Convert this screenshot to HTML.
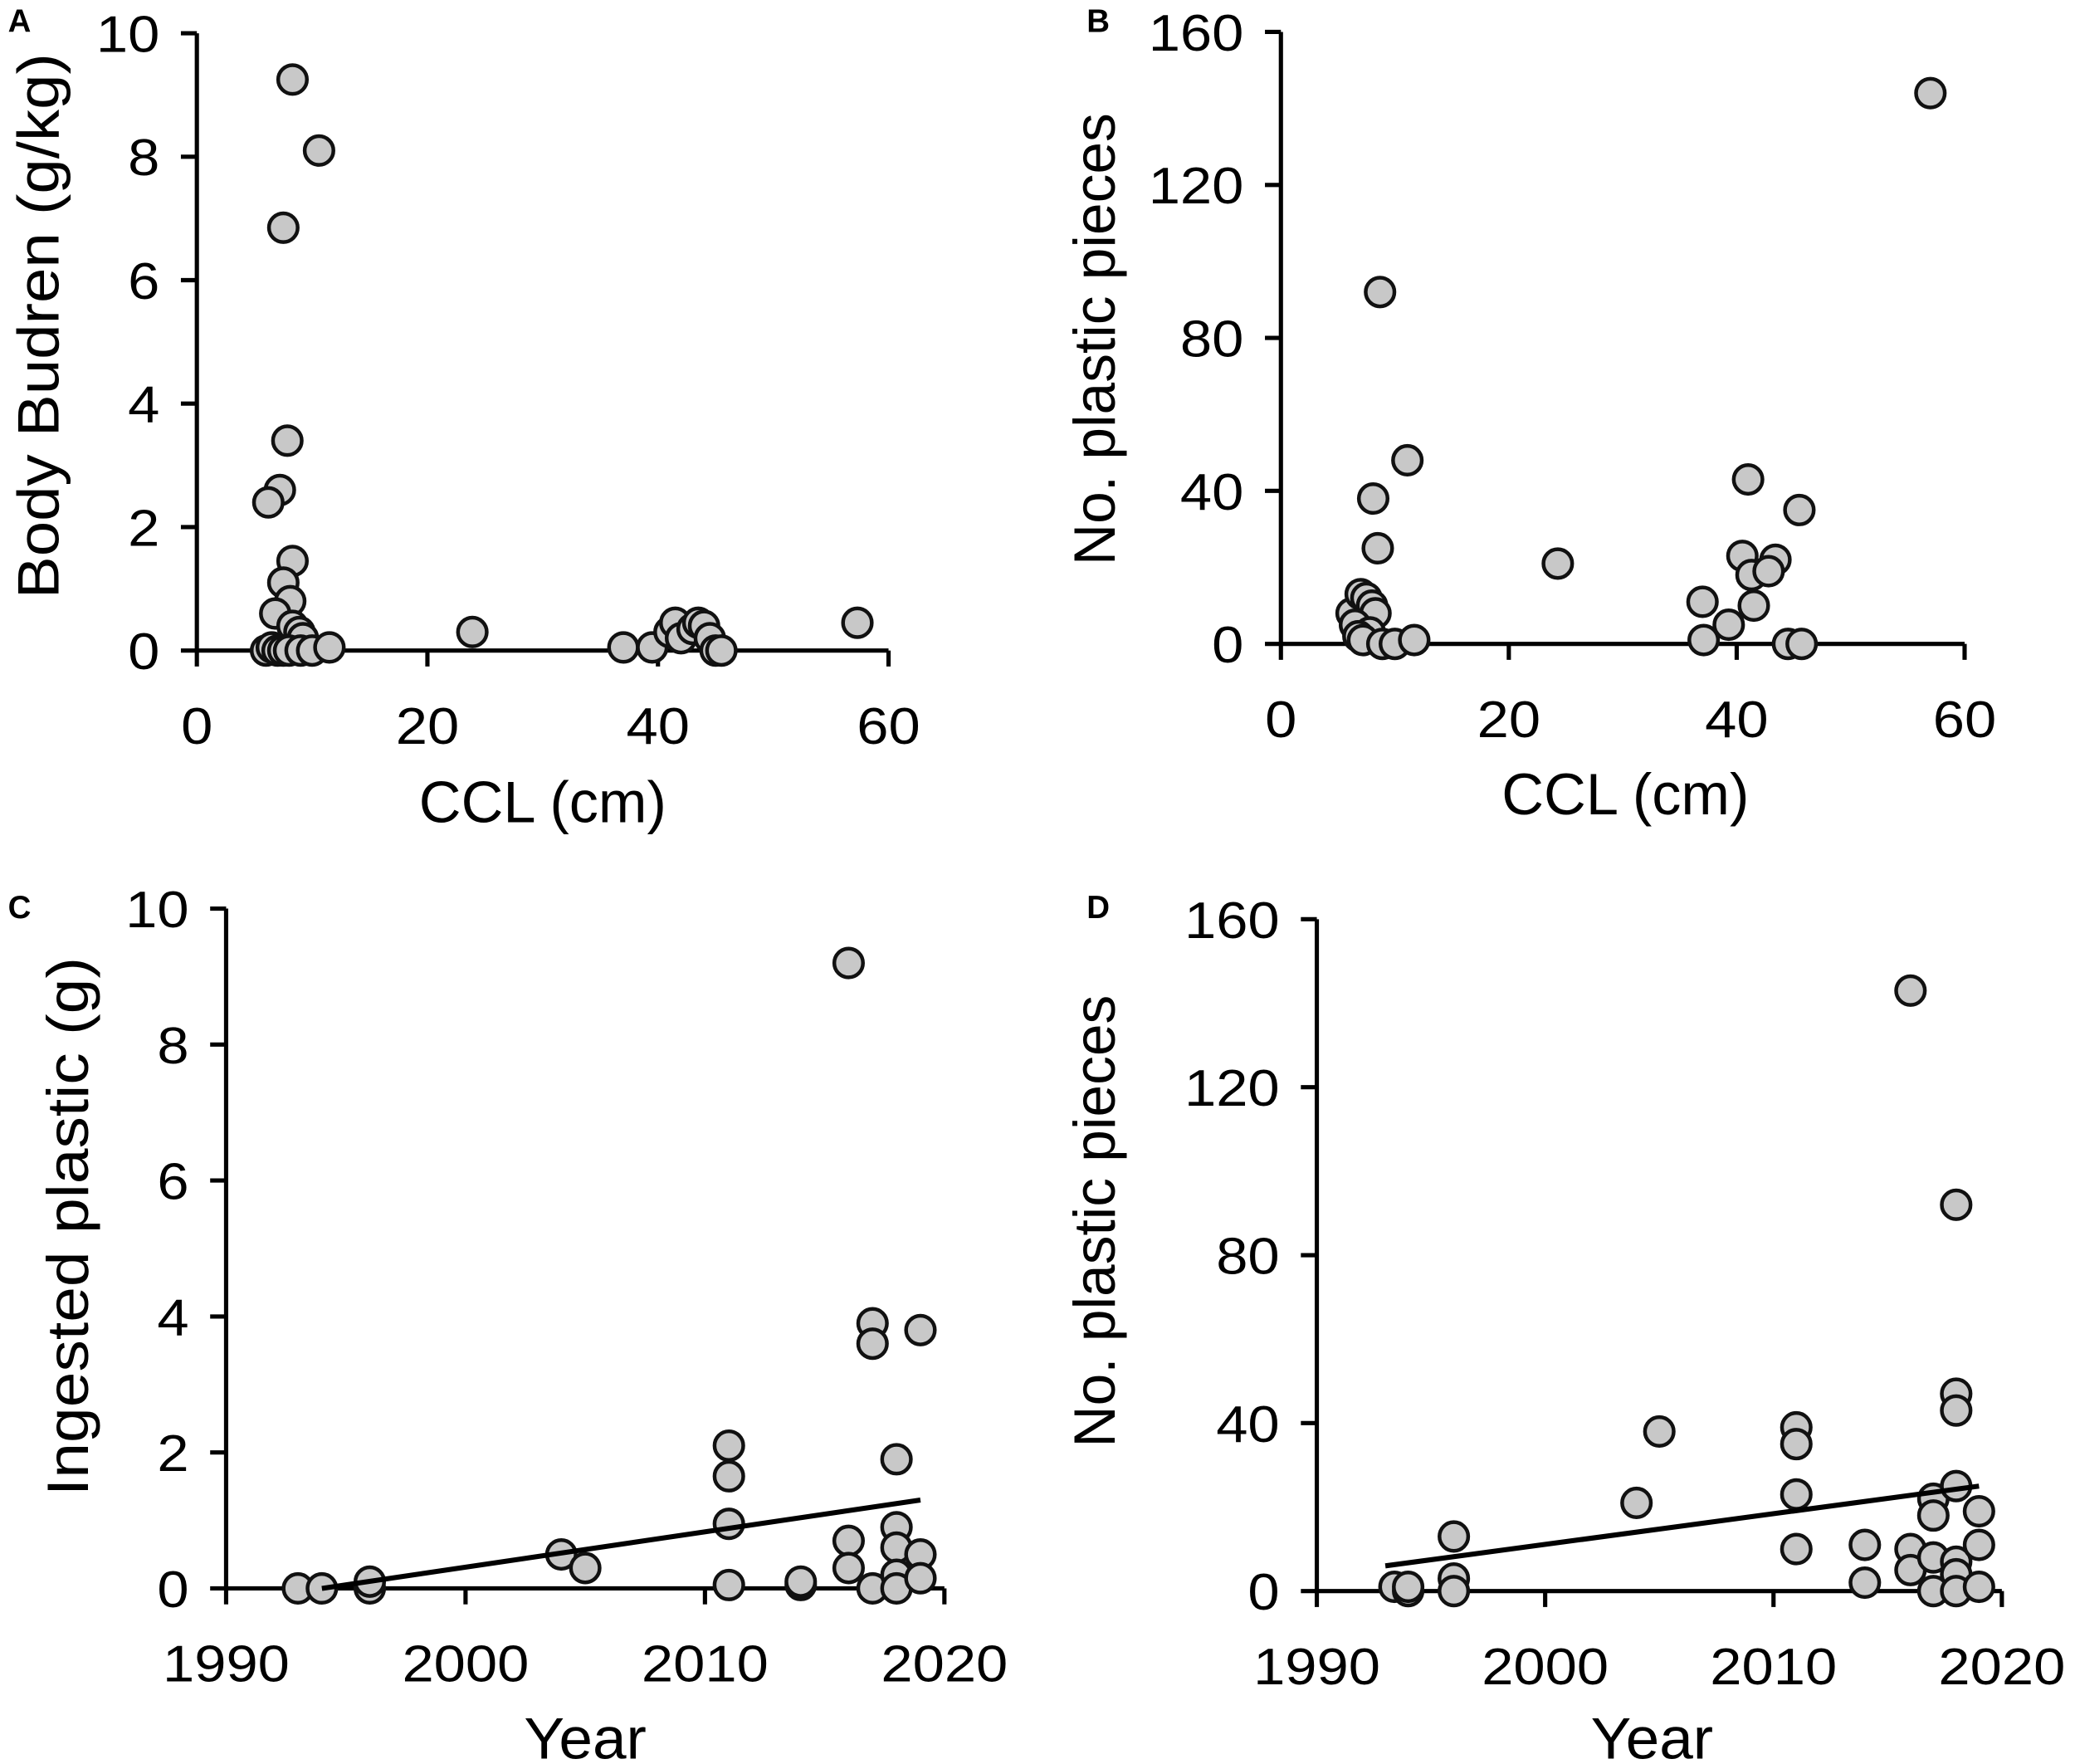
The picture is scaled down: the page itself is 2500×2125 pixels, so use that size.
<!DOCTYPE html>
<html><head><meta charset="utf-8"><style>
html,body{margin:0;padding:0;background:#fff}
svg{display:block}
text{font-family:"Liberation Sans",Arial,sans-serif;fill:#000}
</style></head><body>
<svg id="fig" width="2500" height="2125" viewBox="0 0 1560 1326" xmlns="http://www.w3.org/2000/svg"></svg>
<script>
// Panel A: CCL vs body burden
const aX=[8.3,10.6,7.5,7.85,7.2,6.2,8.3,7.5,8.1,6.8,8.3,8.9,9.2,6,6.5,7,7.5,8,9,10,11.5,23.9,37,39.5,41,41.5,42,43,43.5,44,44.5,45,45.5,57.3];
const aY=[9.25,8.1,6.85,3.4,2.6,2.4,1.45,1.1,0.8,0.6,0.4,0.3,0.2,0,0.05,0,0,0,0,0,0.05,0.3,0.05,0.05,0.3,0.45,0.2,0.35,0.45,0.4,0.2,0,0,0.45];
const aXTicks=[0,20,40,60];
const aYTicks=[0,2,4,6,8,10];
// Panel B: CCL vs number of pieces
const bX=[57,8.7,11.1,8.1,8.5,24.3,41,45.5,40.5,43.4,41.3,42.8,41.5,37,39.3,37.1,44.5,45.7,6.2,7,7.5,8,8.3,6.5,7.8,6.8,7.2,8.9,10,11.7];
const bY=[144,92,48,38,25,21,43,35,23,22,18,19,10,11,5,1,0,0,8,13,12,10,8,5,3,2,1,0,0,1];
const bXTicks=[0,20,40,60];
const bYTicks=[0,40,80,120,160];
// Panel C: year vs ingested plastic
const cX=[1993,1994,1996,1996,2004,2005,2011,2011,2011,2011,2014,2014,2016,2016,2016,2017,2017,2017,2018,2018,2018,2018,2018,2019,2019,2019];
const cY=[0,0,0,0.1,0.5,0.3,2.1,1.65,0.95,0.05,0.05,0.1,9.2,0.7,0.3,3.9,3.6,0,1.9,0.9,0.6,0.2,0,3.8,0.5,0.15];
const cTrendX=[1994,2019];
const cTrendY=[0.0,1.3];
const cXTicks=[1990,2000,2010,2020];
const cYTicks=[0,2,4,6,8,10];
// Panel D: year vs number of pieces
const dX=[1993.4,1994,1994,1996,1996,1996,2004,2005,2011,2011,2011,2011,2014,2014,2016,2016,2016,2017,2017,2017,2017,2018,2018,2018,2018,2018,2018,2018,2019,2019,2019];
const dY=[1,0,1,13,3,0,21,38,39,35,23,10,11,2,143,10,5,22,18,8,0,92,47,43,25,7,4,0,19,11,1];
const dTrendX=[1993,2019];
const dTrendY=[6,25];
const dXTicks=[1990,2000,2010,2020];
const dYTicks=[0,40,80,120,160];

const NS="http://www.w3.org/2000/svg";
const svg=document.getElementById('fig');
function mk(tag,attrs,parent){const e=document.createElementNS(NS,tag);for(const k in attrs)e.setAttribute(k,attrs[k]);(parent||svg).appendChild(e);return e;}
function txt(str,x,y,anchor,size,parent){
  const t=mk('text',{'text-anchor':anchor,'font-size':size,transform:'translate('+x+','+y+') scale(1.1,1)'},parent);
  t.textContent=str;return t;
}
function panel(cfg){
  const g=mk('g',{});
  
  
  const sx=v=>cfg.x0+(v-cfg.xmin)/(cfg.xmax-cfg.xmin)*(cfg.x1-cfg.x0);
  const sy=v=>cfg.y0-(v-cfg.ymin)/(cfg.ymax-cfg.ymin)*(cfg.y0-cfg.y1);
  const ya=mk('line',{x1:cfg.x0,y1:cfg.y0,x2:cfg.x0,y2:cfg.y1,stroke:'#000','stroke-width':3.2},g);
  
  
  const xa=mk('line',{x1:cfg.x0,y1:cfg.y0,x2:cfg.x1,y2:cfg.y0,stroke:'#000','stroke-width':3.2},g);
  
  
  cfg.yt.forEach(v=>{
    const y=sy(v);
    const tk=mk('line',{x1:cfg.x0-12,y1:y,x2:cfg.x0,y2:y,stroke:'#000','stroke-width':3.2},g);
    
    
    const l=txt(String(v),cfg.x0-28,y+14,'end',39,g);
    
    
  });
  cfg.xt.forEach(v=>{
    const x=sx(v);
    const tk=mk('line',{x1:x,y1:cfg.y0,x2:x,y2:cfg.y0+12,stroke:'#000','stroke-width':3.2},g);
    
    
    const l=txt(String(v),x,cfg.y0+70,'middle',39,g);
    
    
  });
  cfg.px.forEach((v,i)=>{
    const c=mk('circle',{cx:sx(v),cy:sy(cfg.py[i]),r:10.8,fill:'#c8c8c8',stroke:'#111','stroke-width':2.8},g);
    
    
  });
  if(cfg.tx){
    const tl=mk('line',{x1:sx(cfg.tx[0]),y1:sy(cfg.ty[0]),x2:sx(cfg.tx[1]),y2:sy(cfg.ty[1]),stroke:'#000','stroke-width':3.8},g);
    
    
  }
  const xt=mk('text',{'text-anchor':'middle','font-size':44,x:cfg.xtx,y:cfg.xty,textLength:cfg.xtl,lengthAdjust:'spacingAndGlyphs'},g);
  xt.textContent=cfg.xtitle;
  
  
  const ytt=mk('text',{'text-anchor':'middle','font-size':40,x:0,y:0,textLength:cfg.ytl,lengthAdjust:'spacingAndGlyphs',transform:'translate('+cfg.ytx+','+cfg.yty+') rotate(-90) scale(1,1.1)'},g);
  ytt.textContent=cfg.ytitle;
  
  
  const pl=mk('text',{x:cfg.lx,y:cfg.ly,'font-size':24,'font-weight':'bold'},g);
  pl.textContent=cfg.letter;
  
  
}
panel({name:'panel-a',x0:148,x1:668,xmin:0,xmax:60,y0:489,y1:25,ymin:0,ymax:10,xt:aXTicks,yt:aYTicks,px:aX,py:aY,
  xtitle:'CCL (cm)',xtx:408,xty:618,xtl:186,ytitle:'Body Budren (g/kg)',ytx:44,yty:245,ytl:410,letter:'A',lx:6,ly:24});
panel({name:'panel-b',x0:963,x1:1477,xmin:0,xmax:60,y0:484,y1:24,ymin:0,ymax:160,xt:bXTicks,yt:bYTicks,px:bX,py:bY,
  xtitle:'CCL (cm)',xtx:1222,xty:612,xtl:186,ytitle:'No. plastic pieces',ytx:838,yty:255,ytl:340,letter:'B',lx:817,ly:24});
panel({name:'panel-c',x0:170,x1:710,xmin:1990,xmax:2020,y0:1194,y1:683,ymin:0,ymax:10,xt:cXTicks,yt:cYTicks,px:cX,py:cY,tx:cTrendX,ty:cTrendY,
  xtitle:'Year',xtx:440,xty:1322,xtl:92,ytitle:'Ingested plastic (g)',ytx:66,yty:922,ytl:405,letter:'C',lx:6,ly:690});
panel({name:'panel-d',x0:990,x1:1505,xmin:1990,xmax:2020,y0:1196,y1:691,ymin:0,ymax:160,xt:dXTicks,yt:dYTicks,px:dX,py:dY,tx:dTrendX,ty:dTrendY,
  xtitle:'Year',xtx:1242,xty:1322,xtl:92,ytitle:'No. plastic pieces',ytx:838,yty:918,ytl:340,letter:'D',lx:817,ly:690});
</script>
</body></html>
